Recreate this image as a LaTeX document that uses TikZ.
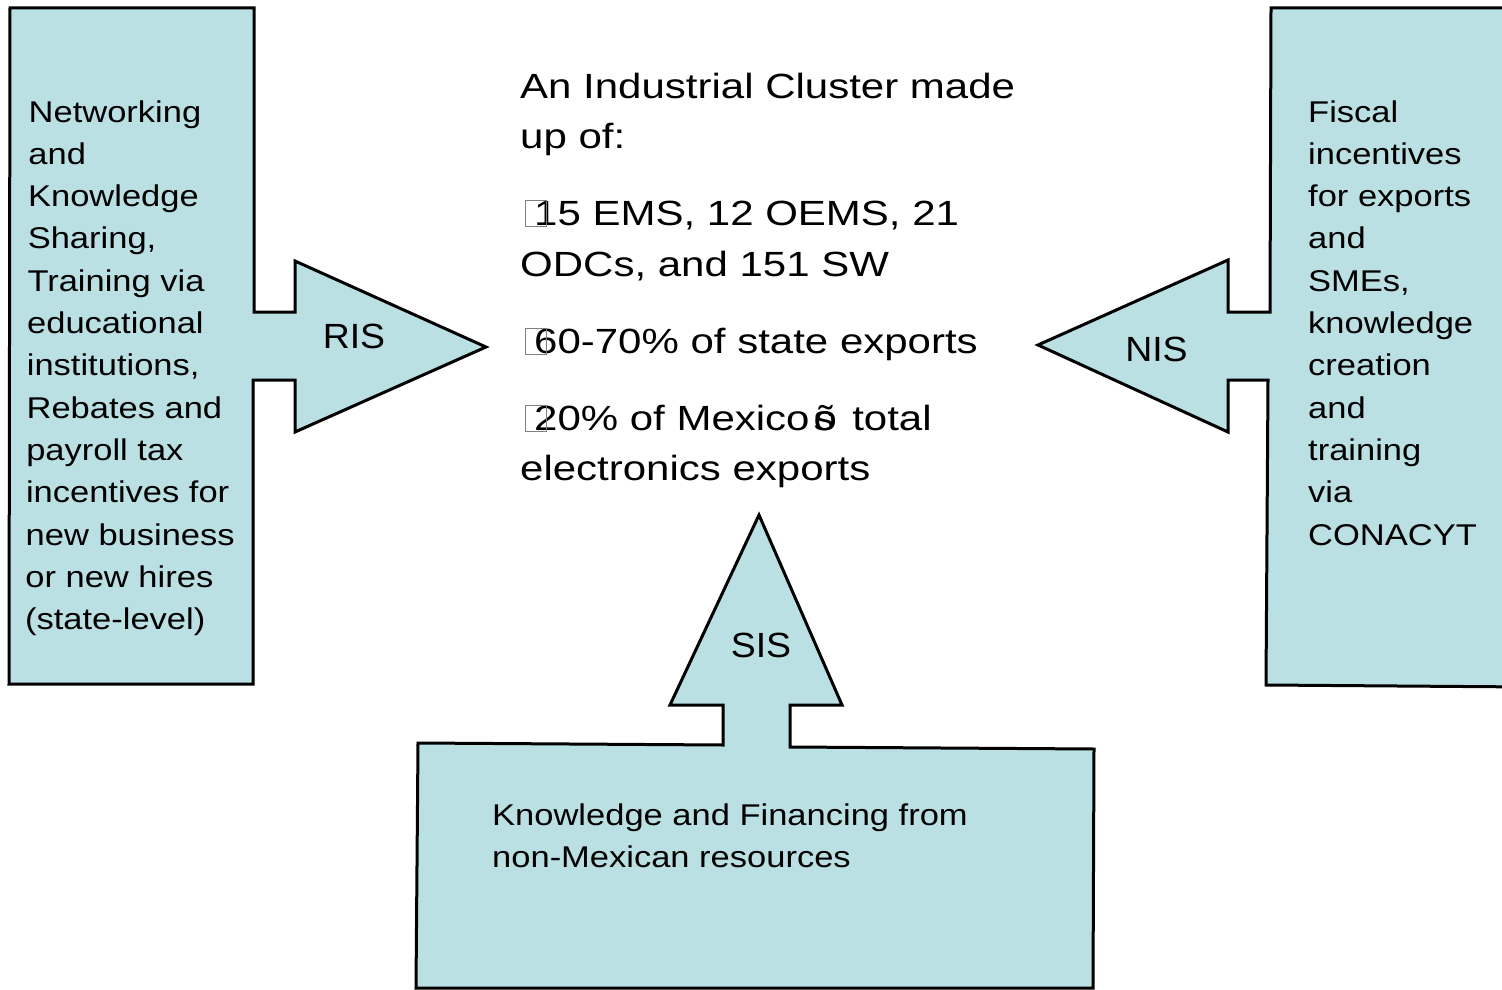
\documentclass[tikz,border=0pt]{standalone}
\usepackage{fontspec}
\setmainfont{Liberation Sans}
\newfontfamily\fwide[FakeStretch=1.2]{Liberation Sans}
\newfontfamily\fside[FakeStretch=1.15]{Liberation Sans}
\newfontfamily\fbot[FakeStretch=1.15]{Liberation Sans}
\newfontfamily\flab[FakeStretch=1.07]{Liberation Sans}
\definecolor{cfill}{RGB}{187,224,227}
\tikzset{
  callout/.style={fill=cfill, draw=black, line width=3pt, line join=miter},
  sidetext/.style={anchor=base west, inner sep=0pt, font=\fside\fontsize{30}{42}\selectfont},
  maintext/.style={anchor=base west, inner sep=0pt, font=\fwide\fontsize{35}{50}\selectfont},
  bottext/.style={anchor=base west, inner sep=0pt, font=\fbot\fontsize{30}{42}\selectfont},
  labtext/.style={anchor=center, inner sep=0pt, font=\flab\fontsize{35}{42}\selectfont},
  missbox/.style={draw=gray, line width=1pt}
}
\begin{document}
\begin{tikzpicture}[x=1pt,y=-1pt]
\useasboundingbox (0,0) rectangle (1502,990);
\clip (0,0) rectangle (1502,990);

% left callout (RIS)
\draw[callout] (10,8) -- (254,8) -- (254,312) -- (295,312) -- (295,261) -- (486,347)
  -- (295,432) -- (295,380) -- (253,380) -- (253,684) -- (9,684) -- cycle;
% right callout (NIS)
\draw[callout] (1271,8) -- (1530,8) -- (1530,687) -- (1266,685) -- (1268,380)
  -- (1228,380) -- (1228,432) -- (1038,345) -- (1228,260) -- (1228,312) -- (1270,312) -- cycle;
% bottom callout (SIS)
\draw[callout] (418,743) -- (723,745) -- (723,705) -- (670,705) -- (759,515) -- (842,705)
  -- (790,705) -- (790,747) -- (1094,749) -- (1093,988) -- (416,988) -- cycle;

% left text
\foreach \t [count=\i] in {Networking, and, Knowledge, {Sharing,}, Training via, educational,
  {institutions,}, Rebates and, payroll tax, incentives for, new business, or new hires, (state-level)}
  \node[sidetext] (L\i) at ({28.5-0.3*(\i-1)}, {122+42.3*(\i-1)}) {\t};

% right text
\foreach \t [count=\i] in {Fiscal, incentives, for exports, and, {SMEs,}, knowledge, creation,
  and, training, via, CONACYT}
  \node[sidetext] (R\i) at (1308, {122+42.3*(\i-1)}) {\t};

% centre text
\node[maintext] (C1) at (520,98) {An Industrial Cluster made};
\node[maintext] (C2) at (520,148) {up of:};
\node[maintext] (C3) at (534,225) {15 EMS, 12 OEMS, 21};
\node[maintext] (C4) at (520,276) {ODCs, and 151 SW};
\node[maintext] (C5) at (534,353) {60-70\% of state exports};
\node[maintext] (C6) at (534,430) {20\% of Mexico\hspace{4pt}\rlap{õ}s\hspace{6pt} total};
\node[maintext] (C7) at (520,480) {electronics exports};
\draw[missbox] (525,200) rectangle (546,226);
\draw[missbox] (525,328) rectangle (546,354);
\draw[missbox] (525,405) rectangle (546,431);

% bottom text
\node[bottext] (K1) at (492,825) {Knowledge and Financing from};
\node[bottext] (K2) at (492,867) {non-Mexican resources};

% labels
\node[labtext] (ris) at (354,336.5) {RIS};
\node[labtext] (nis) at (1156.5,349) {NIS};
\node[labtext] (sis) at (761,645) {SIS};
\end{tikzpicture}
\end{document}
